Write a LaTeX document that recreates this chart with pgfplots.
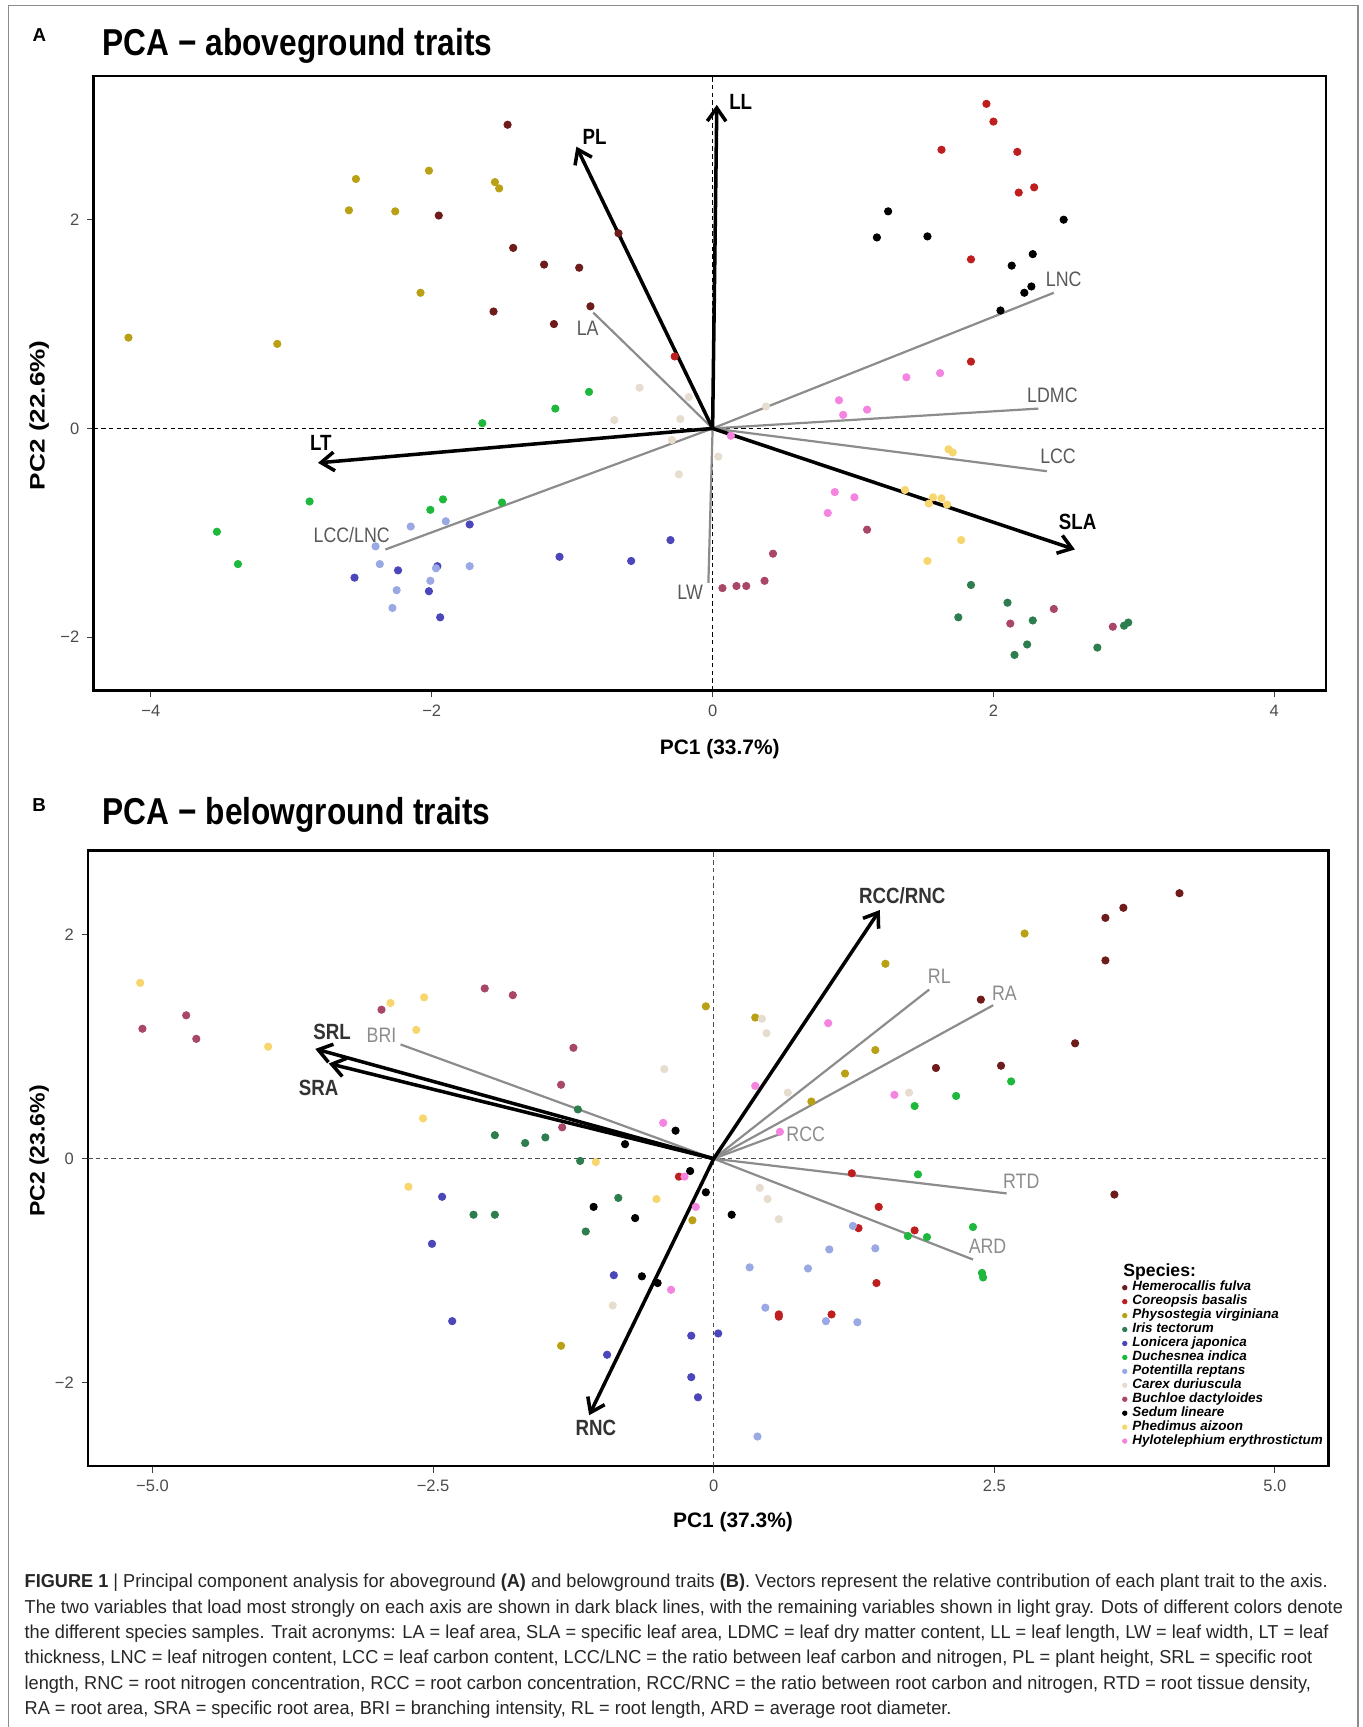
\documentclass[border=0pt]{standalone}
\usepackage{fontspec}
\setmainfont{Liberation Sans}
\usepackage{graphicx}
\usepackage{pgfplots}
\pgfplotsset{compat=1.18}
\usetikzlibrary{arrows.meta}

\definecolor{hem}{HTML}{6E1B1B}
\definecolor{cor}{HTML}{BE1E1E}
\definecolor{phy}{HTML}{B9A014}
\definecolor{iri}{HTML}{2E7D4F}
\definecolor{lon}{HTML}{4B46B9}
\definecolor{duc}{HTML}{1DB83C}
\definecolor{pot}{HTML}{9AA9E3}
\definecolor{car}{HTML}{E6DDCF}
\definecolor{buc}{HTML}{A94766}
\definecolor{sed}{HTML}{000000}
\definecolor{phe}{HTML}{F8D66E}
\definecolor{hyl}{HTML}{F584E0}
\definecolor{glineA}{HTML}{8C8C8C}
\definecolor{glabA}{HTML}{595959}
\definecolor{glabB}{HTML}{8C8C8C}
\definecolor{blabB}{HTML}{333333}

\newcommand{\glab}[1]{{\fontsize{9.5}{10}\selectfont\scalebox{0.85}[1]{#1}}}
\newcommand{\blab}[1]{{\fontsize{10}{10}\selectfont\bfseries\scalebox{0.85}[1]{#1}}}

\pgfplotsset{
  pca/.style={
    scale only axis, anchor=south west, clip=false,
    tick pos=left, tick align=outside, major tick length=3pt,
    major tick style={line width=0.5pt, black!75},
    axis line style={line width=1.2pt},
    tick label style={font=\fontsize{7.5}{8}\selectfont, text=black!70},
  },
  sp/.style={only marks, mark=*, mark size=1.65pt, color=#1},
  gline/.style={forget plot, no marks, line width=1pt, color=glineA},
  barrow/.style={forget plot, no marks, line width=1.6pt, black,
    -{Straight Barb[length=6pt,width=8.5pt]}},
  zero/.style={forget plot, no marks, line width=0.5pt,
    dash pattern=on 2pt off 1.5pt, color=#1},
}

\begin{document}
\begin{tikzpicture}
\useasboundingbox (0,0) rectangle (618.5pt,-784pt);
\draw[black!45, line width=0.6pt] (4pt,-784pt) -- (4pt,-2.5pt) -- (616.5pt,-2.5pt) -- (616.5pt,-784pt);

% ---------- panel A ----------
\node[anchor=base west, inner sep=0pt] at (14.6pt,-18.9pt) {\fontsize{8.5}{9}\selectfont\bfseries A};
\node[anchor=base west, inner sep=0pt] at (46.5pt,-25pt) {\scalebox{0.845}[1]{\fontsize{17}{17}\selectfont\bfseries PCA − aboveground traits}};

\begin{axis}[pca, at={(42.5pt,-313.5pt)}, width=559.5pt, height=279pt,
  xmin=-4.408, xmax=4.369, ymin=-2.512, ymax=3.377,
  xtick={-4,-2,0,2,4}, xticklabels={−4,−2,0,2,4},
  ytick={-2,0,2}, yticklabels={−2,0,2}]
\addplot[zero=black] coordinates {(0,-2.512) (0,3.377)};
\addplot[zero=black] coordinates {(-4.408,0) (4.369,0)};

\addplot[sp=hem] coordinates {(-1.46,2.91) (-1.95,2.04) (-1.42,1.73) (-1.20,1.57) (-0.95,1.54) (-1.56,1.12) (-0.87,1.17) (-1.13,1.00) (-0.67,1.87)};
\addplot[sp=cor] coordinates {(1.95,3.11) (2.00,2.94) (1.63,2.67) (2.17,2.65) (2.29,2.31) (2.18,2.26) (1.84,1.62) (1.84,0.64) (-0.27,0.69)};
\addplot[sp=phy] coordinates {(-2.54,2.39) (-2.02,2.47) (-1.55,2.36) (-1.52,2.30) (-2.59,2.09) (-2.26,2.08) (-2.08,1.30) (-4.16,0.87) (-3.10,0.81)};
\addplot[sp=iri] coordinates {(1.84,-1.50) (2.10,-1.67) (1.75,-1.81) (2.28,-1.84) (2.93,-1.89) (2.96,-1.86) (2.24,-2.07) (2.15,-2.17) (2.74,-2.10)};
\addplot[sp=lon] coordinates {(-1.73,-0.92) (-0.30,-1.07) (-2.24,-1.36) (-1.96,-1.32) (-2.55,-1.43) (-1.09,-1.23) (-0.58,-1.27) (-2.02,-1.56) (-1.94,-1.81)};
\addplot[sp=duc] coordinates {(-0.88,0.35) (-1.12,0.19) (-1.64,0.05) (-2.87,-0.70) (-3.53,-0.99) (-3.38,-1.30) (-1.92,-0.68) (-2.01,-0.78) (-1.50,-0.71)};
\addplot[sp=pot] coordinates {(-2.15,-0.94) (-1.90,-0.89) (-2.40,-1.13) (-2.37,-1.30) (-1.97,-1.34) (-1.73,-1.32) (-2.01,-1.46) (-2.25,-1.55) (-2.28,-1.72)};
\addplot[sp=car] coordinates {(-0.52,0.39) (-0.17,0.30) (-0.70,0.08) (-0.23,0.09) (-0.29,-0.11) (-0.24,-0.44) (0.04,-0.27) (0.38,0.21)};
\addplot[sp=buc] coordinates {(1.10,-0.97) (0.43,-1.20) (0.07,-1.53) (0.17,-1.51) (0.24,-1.51) (0.37,-1.46) (2.43,-1.73) (2.12,-1.87) (2.85,-1.90)};
\addplot[sp=sed] coordinates {(1.25,2.08) (1.17,1.83) (1.53,1.84) (2.50,2.00) (2.28,1.67) (2.13,1.56) (2.27,1.36) (2.22,1.30) (2.05,1.13)};
\addplot[sp=phe] coordinates {(1.68,-0.20) (1.71,-0.23) (1.37,-0.59) (1.57,-0.66) (1.63,-0.67) (1.54,-0.72) (1.67,-0.73) (1.77,-1.07) (1.53,-1.27)};
\addplot[sp=hyl] coordinates {(1.38,0.49) (1.62,0.53) (0.90,0.27) (0.93,0.13) (1.10,0.18) (0.13,-0.07) (0.87,-0.61) (1.01,-0.66) (0.82,-0.81)};

% loadings
\addplot[gline] coordinates {(0,0) (-0.85,1.11)};   % LA
\addplot[gline] coordinates {(0,0) (2.43,1.30)};    % LNC
\addplot[gline] coordinates {(0,0) (2.32,0.19)};    % LDMC
\addplot[gline] coordinates {(0,0) (2.38,-0.41)};   % LCC
\addplot[gline] coordinates {(0,0) (-2.33,-1.16)};  % LCC/LNC
\addplot[gline] coordinates {(0,0) (-0.03,-1.48)};  % LW
\addplot[barrow] coordinates {(0,0) (0.03,3.10)};   % LL
\addplot[barrow] coordinates {(0,0) (-0.97,2.70)};  % PL
\addplot[barrow] coordinates {(0,0) (-2.81,-0.33)}; % LT
\addplot[barrow] coordinates {(0,0) (2.58,-1.16)};  % SLA

\node[text=glabA] at (axis cs:-0.89,0.96) {\glab{LA}};
\node[text=glabA] at (axis cs:2.50,1.43) {\glab{LNC}};
\node[text=glabA] at (axis cs:2.42,0.32) {\glab{LDMC}};
\node[text=glabA] at (axis cs:2.46,-0.27) {\glab{LCC}};
\node[text=glabA] at (axis cs:-2.57,-1.02) {\glab{LCC/LNC}};
\node[text=glabA] at (axis cs:-0.16,-1.57) {\glab{LW}};
\node at (axis cs:0.20,3.13) {\blab{LL}};
\node at (axis cs:-0.84,2.79) {\blab{PL}};
\node at (axis cs:-2.79,-0.14) {\blab{LT}};
\node at (axis cs:2.60,-0.90) {\blab{SLA}};
\end{axis}

\node at (326.75pt,-340pt) {\fontsize{9.5}{10}\selectfont\bfseries PC1 (33.7\%)};
\node[rotate=90] at (17.75pt,-188.5pt) {\scalebox{1.25}[1]{\fontsize{9.5}{10}\selectfont\bfseries PC2 (22.6\%)}};

% ---------- panel B ----------
\node[anchor=base west, inner sep=0pt] at (14.5pt,-368.5pt) {\fontsize{8.5}{9}\selectfont\bfseries B};
\node[anchor=base west, inner sep=0pt] at (46.5pt,-374.5pt) {\scalebox{0.845}[1]{\fontsize{17}{17}\selectfont\bfseries PCA − belowground traits}};

\begin{axis}[pca, at={(40pt,-665.5pt)}, width=563pt, height=279.5pt,
  xmin=-5.574, xmax=5.476, ymin=-2.743, ymax=2.753,
  xtick={-5,-2.5,0,2.5,5}, xticklabels={−5.0,−2.5,0,2.5,5.0},
  ytick={-2,0,2}, yticklabels={−2,0,2},
  legend cell align=left,
  legend image code/.code={\draw[#1,mark size=1pt] plot coordinates {(0pt,0pt)};},
  legend style={draw=none, fill=none, inner sep=0pt, outer sep=0pt,
    at={(axis description cs:0.8341,0.3009)}, anchor=north west,
    row sep=0pt, font=\fontsize{6.1}{6.1}\selectfont\bfseries\itshape,
    nodes={inner sep=0pt, text height=4.6pt, text depth=1.73pt},
    /tikz/every odd column/.append style={column sep=2.5pt}}]
\addplot[zero=black!70] coordinates {(0,-2.743) (0,2.753)};
\addplot[zero=black!70] coordinates {(-5.574,0) (5.476,0)};

\addplot[sp=hem] coordinates {(4.15,2.37) (3.65,2.24) (3.49,2.15) (3.49,1.77) (2.38,1.42) (3.22,1.03) (1.98,0.81) (2.56,0.83) (3.57,-0.32)};
\addlegendentry{Hemerocallis fulva}
\addplot[sp=cor] coordinates {(1.47,-0.43) (1.29,-0.62) (1.79,-0.64) (1.45,-1.11) (0.58,-1.39) (0.58,-1.41) (1.05,-1.39) (1.23,-0.13) (-0.31,-0.16)};
\addlegendentry{Coreopsis basalis}
\addplot[sp=phy] coordinates {(2.77,2.01) (1.53,1.74) (-0.07,1.36) (0.37,1.26) (1.44,0.97) (1.17,0.76) (0.87,0.51) (-0.19,-0.55) (-1.36,-1.67)};
\addlegendentry{Physostegia virginiana}
\addplot[sp=iri] coordinates {(-1.21,0.44) (-1.95,0.21) (-1.68,0.14) (-1.50,0.19) (-1.19,-0.02) (-0.85,-0.35) (-2.14,-0.50) (-1.95,-0.50) (-1.14,-0.65)};
\addlegendentry{Iris tectorum}
\addplot[sp=lon] coordinates {(-2.42,-0.34) (-2.51,-0.76) (-0.89,-1.04) (-2.33,-1.45) (-0.95,-1.75) (-0.20,-1.58) (-0.20,-1.95) (-0.14,-2.13) (0.04,-1.56)};
\addlegendentry{Lonicera japonica}
\addplot[sp=duc] coordinates {(2.65,0.69) (2.16,0.56) (1.79,0.47) (1.82,-0.14) (2.31,-0.61) (1.73,-0.69) (1.90,-0.70) (2.39,-1.02) (2.40,-1.06)};
\addlegendentry{Duchesnea indica}
\addplot[sp=pot] coordinates {(1.24,-0.60) (1.03,-0.81) (1.44,-0.80) (0.32,-0.97) (0.84,-0.98) (0.46,-1.33) (1.00,-1.45) (1.28,-1.46) (0.39,-2.48)};
\addlegendentry{Potentilla reptans}
\addplot[sp=car] coordinates {(-0.44,0.80) (-0.90,-1.31) (0.43,1.25) (0.47,1.12) (0.66,0.59) (1.74,0.59) (0.41,-0.26) (0.48,-0.36) (0.58,-0.54)};
\addlegendentry{Carex duriuscula}
\addplot[sp=buc] coordinates {(-5.09,1.16) (-4.70,1.28) (-4.61,1.07) (-2.96,1.33) (-2.04,1.52) (-1.79,1.46) (-1.25,0.99) (-1.36,0.66) (-1.35,0.28)};
\addlegendentry{Buchloe dactyloides}
\addplot[sp=sed] coordinates {(-0.34,0.25) (-0.21,-0.11) (-0.79,0.13) (-1.07,-0.43) (-0.70,-0.53) (-0.64,-1.05) (-0.50,-1.11) (0.16,-0.50) (-0.07,-0.30)};
\addlegendentry{Sedum lineare}
\addplot[sp=phe] coordinates {(-5.11,1.57) (-3.97,1.00) (-2.88,1.39) (-2.58,1.44) (-2.65,1.15) (-2.59,0.36) (-1.05,-0.03) (-2.72,-0.25) (-0.51,-0.36)};
\addlegendentry{Phedimus aizoon}
\addplot[sp=hyl] coordinates {(-0.45,0.32) (-0.26,-0.16) (-0.16,-0.43) (-0.38,-1.17) (1.02,1.21) (0.37,0.65) (1.61,0.57) (0.59,0.24)};
\addlegendentry{Hylotelephium erythrostictum}

% loadings
\addplot[gline] coordinates {(0,0) (-2.79,1.02)};  % BRI
\addplot[gline] coordinates {(0,0) (1.92,1.51)};   % RL
\addplot[gline] coordinates {(0,0) (2.49,1.37)};   % RA
\addplot[gline] coordinates {(0,0) (0.59,0.22)};   % RCC
\addplot[gline] coordinates {(0,0) (2.61,-0.31)};  % RTD
\addplot[gline] coordinates {(0,0) (2.31,-0.90)};  % ARD
\addplot[barrow] coordinates {(0,0) (1.48,2.22)};  % RCC/RNC
\addplot[barrow] coordinates {(0,0) (-3.55,0.98)}; % SRL
\addplot[barrow] coordinates {(0,0) (-3.43,0.85)}; % SRA
\addplot[barrow] coordinates {(0,0) (-1.11,-2.29)};% RNC

\node[text=glabB] at (axis cs:-2.96,1.10) {\glab{BRI}};
\node[text=glabB] at (axis cs:2.01,1.63) {\glab{RL}};
\node[text=glabB] at (axis cs:2.59,1.48) {\glab{RA}};
\node[text=glabB] at (axis cs:0.82,0.22) {\glab{RCC}};
\node[text=glabB] at (axis cs:2.74,-0.20) {\glab{RTD}};
\node[text=glabB] at (axis cs:2.44,-0.78) {\glab{ARD}};
\node[text=blabB] at (axis cs:1.68,2.35) {\blab{RCC/RNC}};
\node[text=blabB] at (axis cs:-3.40,1.13) {\blab{SRL}};
\node[text=blabB] at (axis cs:-3.52,0.63) {\blab{SRA}};
\node[text=blabB] at (axis cs:-1.05,-2.40) {\blab{RNC}};
\end{axis}

\node[anchor=base west, inner sep=0pt] at (509.8pt,-579.5pt) {\fontsize{8}{8}\selectfont\bfseries Species:};
\node at (332.75pt,-691pt) {\fontsize{9.5}{10}\selectfont\bfseries PC1 (37.3\%)};
\node[rotate=90] at (17.75pt,-522.5pt) {\scalebox{1.1}[1]{\fontsize{9.5}{10}\selectfont\bfseries PC2 (23.6\%)}};

% ---------- caption ----------
\node[anchor=base west, inner sep=0pt, text=black!85] at (11pt,-720.75pt) {\scalebox{0.97}[1]{\fontsize{8.5}{11.5}\selectfont
\begin{tabular}[t]{@{}l@{}}
\textbf{FIGURE 1} | Principal component analysis for aboveground \textbf{(A)} and belowground traits \textbf{(B)}. Vectors represent the relative contribution of each plant trait to the axis.\\
The two variables that load most strongly on each axis are shown in dark black lines, with the remaining variables shown in light gray. Dots of different colors denote\\
the different species samples. Trait acronyms: LA = leaf area, SLA = specific leaf area, LDMC = leaf dry matter content, LL = leaf length, LW = leaf width, LT = leaf\\
thickness, LNC = leaf nitrogen content, LCC = leaf carbon content, LCC/LNC = the ratio between leaf carbon and nitrogen, PL = plant height, SRL = specific root\\
length, RNC = root nitrogen concentration, RCC = root carbon concentration, RCC/RNC = the ratio between root carbon and nitrogen, RTD = root tissue density,\\
RA = root area, SRA = specific root area, BRI = branching intensity, RL = root length, ARD = average root diameter.
\end{tabular}}};
\end{tikzpicture}
\end{document}
